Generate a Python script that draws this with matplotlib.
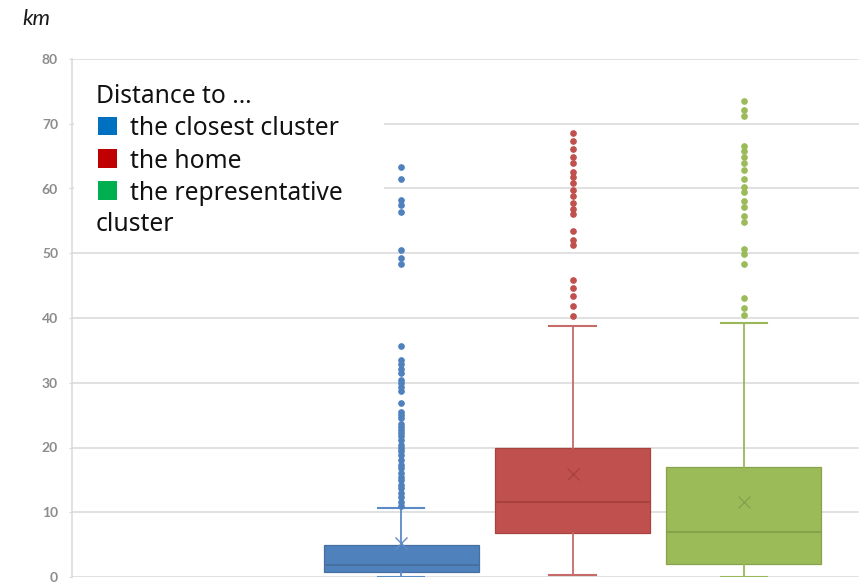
import matplotlib
matplotlib.use("Agg")
import matplotlib.pyplot as plt
from matplotlib.patches import Rectangle

plt.rcParams['font.family'] = ['Lato', 'DejaVu Sans']

# box statistics (km)
names = ["the closest cluster", "the home", "the representative cluster"]
q1 = [0.8, 6.75, 2.0]
q3 = [4.9, 19.9, 17.0]
medians = [1.85, 11.6, 7.0]
means = [5.2, 15.9, 11.6]
whisker_lo = [0.0, 0.3, 0.0]
whisker_hi = [10.6, 38.7, 39.3]

closest_fliers = [63.3, 61.5, 58.3, 57.4, 56.3, 50.5, 49.2, 48.3, 35.6, 33.5,
                  32.9, 32.2, 31.5, 30.5, 29.9, 29.4, 28.7, 26.8, 25.5, 25.0,
                  24.5, 23.7, 23.2, 22.7, 22.2, 21.7, 21.2, 20.4, 19.9, 19.4,
                  18.8, 18.1, 17.3, 16.8, 16.0, 15.5, 15.0, 14.2, 13.7, 12.9,
                  12.4, 11.6, 10.9]
home_fliers = [68.6, 67.3, 66.1, 64.9, 63.9, 62.6, 61.8, 60.8, 59.8, 58.8,
               57.8, 56.9, 56.1, 53.5, 52.0, 51.3, 45.9, 44.6, 43.4, 41.9, 40.3]
repr_fliers = [73.5, 72.1, 71.2, 66.6, 65.8, 64.9, 63.9, 62.9, 61.4, 60.3,
               59.4, 58.0, 57.2, 55.8, 54.9, 50.6, 49.9, 48.3, 43.1, 41.5, 40.5]
fliers = [closest_fliers, home_fliers, repr_fliers]

fills = ["#4F81BD", "#C0504D", "#9BBB59"]
darks = ["#45709F", "#A8423F", "#86A34C"]
whisk = ["#5C8AC4", "#C66B69", "#98B85A"]
mean_cols = ["#5F8CC4", "#A8423F", "#86A34C"]
legend_cols = ["#0070C0", "#C00000", "#00B050"]

fig = plt.figure(figsize=(8.65, 5.85), dpi=100)
ax = fig.add_axes([72 / 865, 1 - 577 / 585, 787 / 865, 518 / 585])

for i in range(3):
    st = dict(med=medians[i], q1=q1[i], q3=q3[i], whislo=whisker_lo[i],
              whishi=whisker_hi[i], mean=means[i], fliers=fliers[i])
    ax.bxp([st], positions=[i + 1], widths=0.905, capwidths=0.27,
           showmeans=True, patch_artist=True,
           boxprops=dict(facecolor=fills[i], edgecolor=darks[i], linewidth=0.9),
           medianprops=dict(color=darks[i], linewidth=1.4),
           whiskerprops=dict(color=whisk[i], linewidth=1.3),
           capprops=dict(color=whisk[i], linewidth=1.5),
           meanprops=dict(marker="x", markeredgecolor=mean_cols[i], markersize=8,
                          markeredgewidth=1.0),
           flierprops=dict(marker="o", markerfacecolor=fills[i],
                           markeredgecolor=fills[i], markersize=3.8))

ax.set_xlim(-0.924, 3.673)
ax.set_ylim(0, 80)
ax.set_yticks(range(0, 81, 10))
ax.set_xticks([])
ax.grid(axis="y", color="#D9D9D9", linewidth=1.1)
ax.set_axisbelow(True)
for s in ["top", "right", "bottom"]:
    ax.spines[s].set_visible(False)
ax.spines["left"].set_color("#D9D9D9")
ax.spines["left"].set_linewidth(1.1)
ax.tick_params(axis="y", length=2, color="#D9D9D9", pad=8,
               labelsize=10, labelcolor="#8C8C8C")
for lab in ax.get_yticklabels():
    lab.set_fontweight("bold")

# white legend panel over the grid
ax.add_patch(Rectangle((0.003, 0.641), 0.393, 0.338, transform=ax.transAxes,
                       facecolor="white", edgecolor="none", zorder=2))

fig.text(22 / 865, 1 - 25 / 585, "km", fontsize=16, style="italic",
         va="baseline", color="#1a1a1a")

leg_font = ['Noto Sans', 'DejaVu Sans']
fs = 17.7
fig.text(96 / 865, 1 - 103 / 585, "Distance to \u2026", fontsize=fs,
         family=leg_font, va="baseline", color="#111111")
base = [135, 167.5, 199.5]
labels = ["the closest cluster", "the home", "the representative"]
for i in range(3):
    fig.patches.append(Rectangle((98 / 865, 1 - base[i] / 585), 19 / 865, 18.5 / 585,
                                 transform=fig.transFigure, facecolor=legend_cols[i],
                                 edgecolor="none", zorder=5))
    fig.text(130 / 865, 1 - base[i] / 585, labels[i], fontsize=fs,
             family=leg_font, va="baseline", color="#111111")
fig.text(96 / 865, 1 - 231.5 / 585, "cluster", fontsize=fs,
         family=leg_font, va="baseline", color="#111111")

fig.savefig("out.png", dpi=100)
